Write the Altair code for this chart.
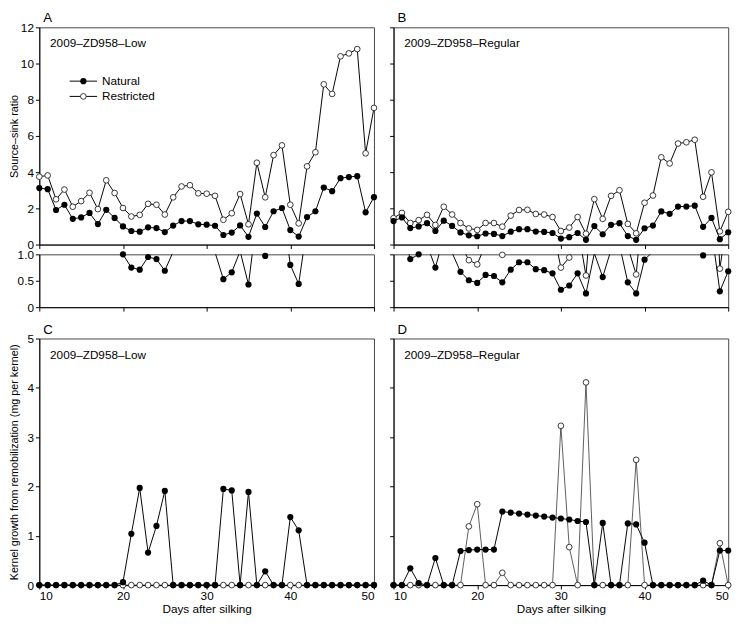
import altair as alt
import pandas as pd

FONT = "Liberation Sans"

days = [10, 11, 12, 13, 14, 15, 16, 17, 18, 19,
        20, 21, 22, 23, 24, 25, 26, 27, 28, 29,
        30, 31, 32, 33, 34, 35, 36, 37, 38, 39,
        40, 41, 42, 43, 44, 45, 46, 47, 48, 49, 50]

x_ticks = [10, 20, 30, 40, 50]

# Panel A / source-sink ratio, 2009-ZD958-Low
a_natural = [3.12, 3.06, 1.91, 2.20, 1.42, 1.50, 1.75, 1.13, 1.92, 1.47,
             1.00, 0.75, 0.71, 0.95, 0.91, 0.69, 1.05, 1.30, 1.30, 1.12,
             1.10, 1.04, 0.53, 0.66, 1.06, 0.43, 1.71, 0.97, 1.84, 2.02,
             0.80, 0.44, 1.52, 1.84, 3.15, 2.95, 3.67, 3.73, 3.78, 1.78, 2.62]
a_restricted = [3.75, 3.82, 2.50, 3.04, 2.09, 2.40, 2.86, 1.96, 3.55, 2.85,
                2.02, 1.55, 1.64, 2.25, 2.20, 1.66, 2.61, 3.21, 3.28, 2.83,
                2.81, 2.69, 1.37, 1.73, 2.79, 1.12, 4.52, 2.61, 4.94, 5.48,
                2.20, 1.17, 4.32, 5.10, 8.85, 8.32, 10.40, 10.56, 10.80, 5.04, 7.55]

# Panel B / source-sink ratio, 2009-ZD958-Regular
b_natural = [1.30, 1.50, 0.91, 1.00, 1.18, 0.75, 1.32, 1.03, 0.67, 0.51,
             0.46, 0.61, 0.59, 0.47, 0.71, 0.85, 0.85, 0.72, 0.70, 0.64,
             0.33, 0.41, 0.64, 0.26, 1.02, 0.57, 1.09, 1.18, 0.47, 0.26,
             0.90, 1.05, 1.83, 1.70, 2.10, 2.10, 2.15, 0.98, 1.47, 0.30, 0.68]
b_restricted = [1.46, 1.75, 1.19, 1.35, 1.64, 1.08, 2.09, 1.66, 1.19, 0.89,
                0.81, 1.19, 1.19, 0.99, 1.60, 1.91, 1.92, 1.69, 1.66, 1.52,
                0.75, 0.94, 1.52, 0.60, 2.51, 1.42, 2.69, 3.00, 1.14, 0.62,
                2.31, 2.71, 4.82, 4.48, 5.58, 5.65, 5.79, 2.64, 3.99, 0.73, 1.81]

# Panel C / kernel growth from remobilization, 2009-ZD958-Low
c_natural = [0, 0, 0, 0, 0, 0, 0, 0, 0, 0,
             0.06, 1.04, 1.97, 0.66, 1.20, 1.91, 0, 0, 0, 0,
             0, 0, 1.95, 1.92, 0, 1.89, 0, 0.28, 0, 0,
             1.38, 1.11, 0, 0, 0, 0, 0, 0, 0, 0, 0]
c_restricted = [0, 0, 0, 0, 0, 0, 0, 0, 0, 0,
                0, 0, 0, 0, 0, 0, 0, 0, 0, 0,
                0, 0, 0, 0, 0, 0, 0, 0, 0, 0,
                0, 0, 0, 0, 0, 0, 0, 0, 0, 0, 0]

# Panel D / kernel growth from remobilization, 2009-ZD958-Regular
d_natural = [0, 0, 0.34, 0.04, 0, 0.55, 0, 0, 0.69, 0.71,
             0.72, 0.72, 0.72, 1.49, 1.47, 1.45, 1.43, 1.41, 1.39, 1.37,
             1.35, 1.33, 1.30, 1.28, 0, 1.26, 0, 0, 1.25, 1.23,
             0.86, 0, 0, 0, 0, 0, 0, 0.09, 0, 0.70, 0.70]
d_restricted = [0, 0, 0, 0, 0, 0, 0, 0, 0, 1.19,
                1.64, 0, 0, 0.25, 0, 0, 0, 0, 0, 0,
                3.23, 0.77, 0, 4.11, 0, 0, 0, 0, 0, 2.54,
                0, 0, 0, 0, 0, 0, 0, 0, 0, 0.85, 0]

W = 342
H_MAIN = 222
H_STRIP = 54
H_BOT = 252


def text_layer(txt, x, y, size, baseline="middle"):
    return alt.Chart(pd.DataFrame({"t": [txt]})).mark_text(
        align="left", baseline=baseline, font=FONT, fontSize=size, color="black"
    ).encode(text="t:N", x=alt.value(x), y=alt.value(y))


def panel(nat, res, ydom, yvals, kind, left, letter=None, tag=None, legend=False):
    dn = pd.DataFrame({"day": days, "value": nat})
    dr = pd.DataFrame({"day": days, "value": res})

    xkw = dict(values=x_ticks, grid=False, tickSize=4, labelPadding=2, format="d")
    if kind == "bottom":
        xax = alt.Axis(title="Days after silking", labels=True, titlePadding=2,
                       titleFontSize=12, **xkw)
    else:
        xax = alt.Axis(title=None, labels=False, **xkw)

    ykw = dict(values=yvals, grid=False, tickSize=4, labelPadding=2)
    if kind == "strip":
        ykw["labelExpr"] = "datum.value == 0 ? '0' : format(datum.value, '.1f')"
    else:
        ykw["format"] = "d"
    if left and kind == "main":
        yax = alt.Axis(title="Source\u2013sink ratio", titlePadding=1, **ykw)
    elif left and kind == "bottom":
        yax = alt.Axis(title="Kernel growth from remobilization (mg per kernel)",
                       titlePadding=7.7, **ykw)
    elif left:
        yax = alt.Axis(title=None, **ykw)
    else:
        yax = alt.Axis(title=None, labels=False, **ykw)

    X = alt.X("day:Q", scale=alt.Scale(domain=[10, 50], nice=False, zero=False), axis=xax)
    Y = alt.Y("value:Q", scale=alt.Scale(domain=ydom, nice=False, zero=False), axis=yax)

    rcol = "#333333" if kind == "bottom" else "black"
    rw = 0.8 if kind == "bottom" else 1

    res_line = alt.Chart(dr).mark_line(color=rcol, strokeWidth=rw, clip=True).encode(x=X, y=Y)
    res_pts = alt.Chart(dr).mark_point(shape="circle", filled=False, fill="white", fillOpacity=1,
                                        stroke="#222222", strokeWidth=0.9, size=34,
                                        opacity=1).encode(x=X, y=Y)
    nat_line = alt.Chart(dn).mark_line(color="black", strokeWidth=1, clip=True).encode(x=X, y=Y)
    nat_pts = alt.Chart(dn).mark_point(shape="circle", filled=True, color="black", size=40,
                                        opacity=1).encode(x=X, y=Y)
    if kind == "strip":
        res_pts = res_pts.transform_filter("datum.value <= 1.0")
        nat_pts = nat_pts.transform_filter("datum.value <= 1.0")

    layers = [res_line, res_pts, nat_line, nat_pts]

    if tag:
        layers.append(text_layer(tag, 11, 16.5, 12))
    if letter:
        layers.append(text_layer(letter, 4, -5, 13.5, baseline="alphabetic"))
    if legend:
        for name, yy, filled in [("Natural", 55, True), ("Restricted", 70.6, False)]:
            ld = pd.DataFrame({"t": [name]})
            layers.append(alt.Chart(ld).mark_rule(color="black", strokeWidth=1).encode(
                x=alt.value(31), x2=alt.value(59), y=alt.value(yy)))
            if filled:
                layers.append(alt.Chart(ld).mark_point(shape="circle", filled=True, color="black",
                                                       size=40, opacity=1).encode(
                    x=alt.value(45), y=alt.value(yy)))
            else:
                layers.append(alt.Chart(ld).mark_point(shape="circle", filled=False, fill="white",
                                                       fillOpacity=1, stroke="#222222",
                                                       strokeWidth=0.9, size=34, opacity=1).encode(
                    x=alt.value(45), y=alt.value(yy)))
            layers.append(text_layer(name, 64, yy, 12))

    height = {"main": H_MAIN, "strip": H_STRIP, "bottom": H_BOT}[kind]
    return alt.layer(*layers).properties(width=W, height=height)


A_main = panel(a_natural, a_restricted, [0, 12], [0, 2, 4, 6, 8, 10, 12], "main", True,
               letter="A", tag="2009\u2013ZD958\u2013Low", legend=True)
B_main = panel(b_natural, b_restricted, [0, 12], [0, 2, 4, 6, 8, 10, 12], "main", False,
               letter="B", tag="2009\u2013ZD958\u2013Regular")
A_strip = panel(a_natural, a_restricted, [0, 1], [0, 0.5, 1.0], "strip", True)
B_strip = panel(b_natural, b_restricted, [0, 1], [0, 0.5, 1.0], "strip", False)
C_panel = panel(c_natural, c_restricted, [0, 5], [0, 1, 2, 3, 4, 5], "bottom", True,
                letter="C", tag="2009\u2013ZD958\u2013Low")
D_panel = panel(d_natural, d_restricted, [0, 5], [0, 1, 2, 3, 4, 5], "bottom", False,
                letter="D", tag="2009\u2013ZD958\u2013Regular")

row1 = alt.hconcat(A_main, B_main, spacing=20, bounds="flush")
row2 = alt.hconcat(A_strip, B_strip, spacing=20, bounds="flush")
row3 = alt.hconcat(C_panel, D_panel, spacing=20, bounds="flush")

top = alt.vconcat(row1, row2, spacing=-4)

chart = alt.vconcat(top, row3, spacing=8).properties(
    padding={"left": 0, "top": -4, "right": 4, "bottom": 2}
).configure_axis(
    domainColor="black", domainWidth=1, tickColor="black", tickWidth=1,
    labelColor="black", titleColor="black", labelFont=FONT, titleFont=FONT,
    labelFontSize=12, titleFontSize=11, titleFontWeight="normal",
).configure_view(
    stroke="#444444", strokeWidth=1
)

chart.save("out.html", embed_options={"renderer": "svg", "actions": False})
